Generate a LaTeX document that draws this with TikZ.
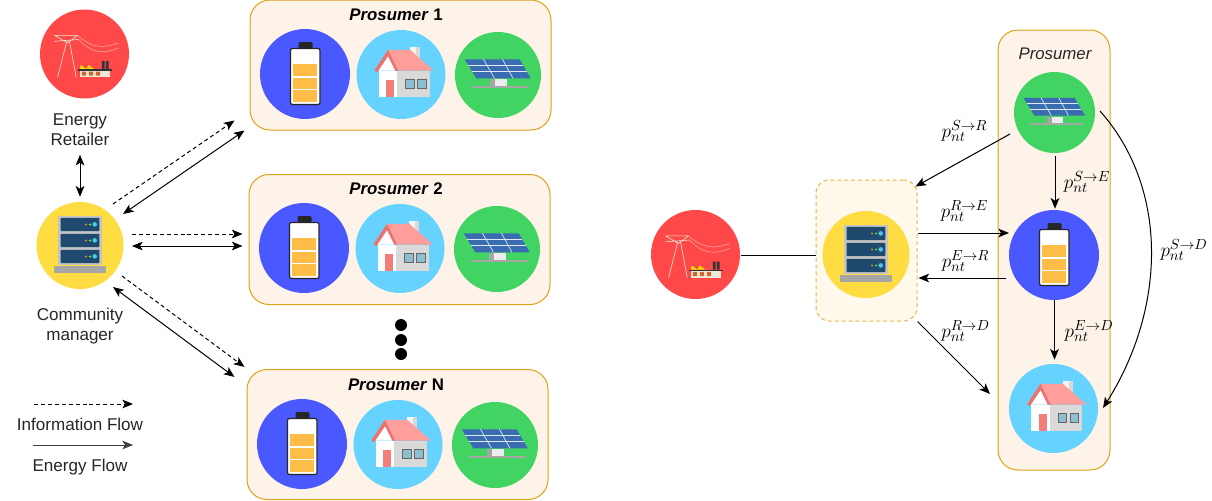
\documentclass[tikz,border=0pt]{standalone}
\usepackage{fontspec}
\setmainfont{Liberation Sans}
\usepackage{xcolor}
\usetikzlibrary{arrows.meta}
\usetikzlibrary{calc}
\definecolor{gridred}{RGB}{255,72,72}
\definecolor{batblue}{RGB}{74,88,255}
\definecolor{homeblue}{RGB}{102,211,255}
\definecolor{solargreen}{RGB}{66,212,98}
\definecolor{serveryellow}{RGB}{255,220,66}
\definecolor{boxfill}{RGB}{254,243,233}
\definecolor{boxline}{RGB}{224,162,24}
\definecolor{mgrfill}{RGB}{255,249,236}
\definecolor{mgrline}{RGB}{226,184,76}
\definecolor{cellorange}{RGB}{255,188,71}
\definecolor{roofpink}{RGB}{255,158,155}
\definecolor{roofdark}{RGB}{240,112,106}
\definecolor{panelblue}{RGB}{58,108,178}
\definecolor{baydark}{RGB}{31,74,109}
\definecolor{rackgray}{RGB}{196,196,196}
\definecolor{basegray}{RGB}{166,166,166}
\definecolor{factorycream}{RGB}{239,232,216}

\tikzset{
	>={Stealth[length=8pt,width=6.5pt,inset=2pt]},
	disc/.style={circle,inner sep=0pt,minimum size=#1*0.75pt},
	probox/.style={draw=boxline,fill=boxfill,line width=0.75pt,rounded corners=15pt,inner sep=0pt,minimum width=301*0.75pt,minimum height=130*0.75pt},
	txt/.style={align=center,text=black!85,font=\fontsize{12.8}{15}\selectfont,inner sep=0pt},
	title/.style={inner sep=0pt,font=\fontsize{12.6}{15}\selectfont\bfseries},
	pow/.style={inner sep=0pt,font=\fontsize{15}{18}\selectfont},
	energy/.style={line width=0.75pt},
	info/.style={line width=0.75pt,dash pattern=on 3pt off 2.2pt},
	batteryicon/.pic={
		\fill[black!85,rounded corners=1pt] (-6.5,-32) rectangle (7.5,-24);
		\draw[black!85,fill=white,line width=0.9pt,rounded corners=1.5pt] (-14.5,-25.5) rectangle (15,30.5);
		\fill[cellorange] (-11.7,-10) rectangle (12.3,2);
		\fill[cellorange] (-11.7,3.7) rectangle (12.3,15);
		\fill[cellorange] (-11.7,16.3) rectangle (12.3,28.3);
	},
	homeicon/.pic={
		\fill[white!92!gray] (9.3,-28) rectangle (19.3,-14);
		\fill[black!15] (15,-28) rectangle (19.3,-14);
		\fill[white] (-22.3,-4) rectangle (-4,22);
		\fill[black!15] (-4,-4) rectangle (28.7,22);
		\fill[roofpink] (-13,-24.7) -- (9.3,-24.7) -- (32.7,-4) -- (-3,-4) -- cycle;
		\fill[roofdark] (-26.7,-4) -- (-13,-24.7) -- (-3,-4) -- (-6,-4) -- (-13,-18) -- (-23.5,-2.5) -- cycle;
		\fill[white] (-22.3,-4) -- (-13,-18) -- (-6,-4) -- cycle;
		\fill[roofdark!90!white] (-15,5.3) rectangle (-6.7,22);
		\draw[black!60,fill=homeblue!55!gray!80,line width=0.5pt] (4.7,5.3) rectangle (13.3,14.3);
		\draw[black!60,fill=homeblue!55!gray!80,line width=0.5pt] (16.7,5.3) rectangle (25,14.3);
	},
	solaricon/.pic={
		\fill[panelblue] (-33.3,-15.7) -- (21.7,-15.7) -- (32.7,3.3) -- (-21.7,3.3) -- cycle;
		\draw[white!85!panelblue,line width=0.4pt] (-30,-10) -- (25,-10) (-26.5,-3.5) -- (28.8,-3.5);
		\draw[white!85!panelblue,line width=0.5pt] (-14.5,-15.7) -- (-3.5,3.3) (4.5,-15.7) -- (15,3.3);
		\fill[basegray] (-7.7,4.3) rectangle (-3,11);
		\fill[black!7] (-3,4.3) rectangle (9,11);
		\fill[basegray] (-26,11) rectangle (30.7,13);
	},
	servericon/.pic={
		\fill[rackgray] (-22,-30) rectangle (21.7,19.3);
		\fill[basegray] (-26,20) rectangle (25.7,27);
		\foreach \bayy in {-27.7,-11.7,4.3}{
			\fill[baydark,rounded corners=0.5pt] (-19.3,\bayy) rectangle (19.3,\bayy+13.2);
			\fill[red!55!white] (6,\bayy+6.6) circle (1.1);
			\fill[green!60!yellow] (10,\bayy+6.6) circle (1.1);
			\fill[cyan!70!white] (14.7,\bayy+6.6) circle (2.3);
		}
	},
	gridicon/.pic={
		\draw[factorycream,line width=0.45pt] (-17.7,-12.7) -- (-27,23.3) (-15,-12.7) -- (-8.3,23.3)
			(-30,-18.7) -- (-7,-18.7) (-30,-18.7) -- (-17,-11) -- (-7,-18.7) (-30,-12.7) -- (-6,-14.5);
		\draw[factorycream!70!gridred,line width=0.35pt] (-7,-18.7) .. controls (8,-5) and (20,-6) .. (34,-11)
			(-6,-14.5) .. controls (8,0) and (20,0) .. (34,-6);
		\fill[yellow!80!orange] (-5,15) -- (-3.5,11) -- (1.7,15) -- (4.3,11) -- (9.5,15) -- cycle;
		\fill[black!80] (17.3,7) rectangle (20,15) (21.3,7) rectangle (24,15);
		\fill[black!80] (-7,15) rectangle (27.3,16.7);
		\fill[factorycream] (-5,16.7) rectangle (25.7,23.3);
		\fill[brown!80!red] (-2.7,17.7) rectangle (1.7,21.7) (4.3,17.7) rectangle (8.7,21.7) (11.3,17.7) rectangle (15.7,21.7);
	},
}

\begin{document}
\begin{tikzpicture}[x=0.75pt,y=-0.75pt]
	\useasboundingbox (0,0) rectangle (1212,500);

	% community side
	\node[disc=89,fill=gridred](retailerL) at (84.5,54){};
	\pic at (retailerL) {gridicon};
	\node[txt](retailerTxt) at (80,129.5){Energy\\Retailer};
	\node[disc=87,fill=serveryellow](serverL) at (80,245.5){};
	\pic at (serverL) {servericon};
	\node[txt](serverTxt) at (80,326){Community\\manager};

	\node[probox](boxA) at (400.5,65){};
	\node[title] at (396,15){\textit{Prosumer} 1};
	\node[disc=90,fill=batblue](batA) at (305,74){};
	\node[disc=89,fill=homeblue](homeA) at (401,74.5){};
	\node[disc=86,fill=solargreen](solarA) at (498,75){};
	\pic at (batA) {batteryicon};
	\pic at (homeA) {homeicon};
	\pic at (solarA) {solaricon};

	\node[probox](boxB) at (399.5,239.5){};
	\node[title] at (396,189){\textit{Prosumer} 2};
	\node[disc=90,fill=batblue](batB) at (304,248){};
	\node[disc=89,fill=homeblue](homeB) at (400,248.5){};
	\node[disc=86,fill=solargreen](solarB) at (497,249){};
	\pic at (batB) {batteryicon};
	\pic at (homeB) {homeicon};
	\pic at (solarB) {solaricon};

	\node[disc=12,fill=black](dotA) at (401,325){};
	\node[disc=12,fill=black](dotB) at (401,340){};
	\node[disc=12,fill=black](dotC) at (401,354){};

	\node[probox](boxC) at (397.5,434.5){};
	\node[title] at (396,385){\textit{Prosumer} N};
	\node[disc=90,fill=batblue](batC) at (302,444){};
	\node[disc=89,fill=homeblue](homeC) at (398,444.5){};
	\node[disc=86,fill=solargreen](solarC) at (495,445){};
	\pic at (batC) {batteryicon};
	\pic at (homeC) {homeicon};
	\pic at (solarC) {solaricon};

	\draw[<->,energy]([shift={(0,9)}]retailerTxt.south) to ([shift={(0,-5)}]serverL.north);
	\draw[->,info]([shift={(33,-41.5)}]serverL.center) to ([shift={(-15,-10)}]boxA.south west);
	\draw[<->,energy]([shift={(43,-31.5)}]serverL.center) to ([shift={(-5,0)}]boxA.south west);
	\draw[->,info]([shift={(52,-11.5)}]serverL.center) to ([shift={(-6,-5.5)}]boxB.west);
	\draw[<->,energy]([shift={(52,0.5)}]serverL.center) to ([shift={(-6,6.5)}]boxB.west);
	\draw[->,info]([shift={(42,30.5)}]serverL.center) to ([shift={(-2,-2)}]boxC.north west);
	\draw[<->,energy]([shift={(33,41.5)}]serverL.center) to ([shift={(-12,8)}]boxC.north west);

	% legend
	\node[txt](infoTxt) at (80,424){Information Flow};
	\node[txt](energyTxt) at (80,467.5){Energy Flow};
	\coordinate(infoA) at (34,404);
	\coordinate(infoB) at (133,404);
	\coordinate(energyA) at (33,445);
	\coordinate(energyB) at (133,445);
	\draw[->,info](infoA) to (infoB);
	\draw[->,energy,black!75](energyA) to (energyB);

	% single prosumer
	\node[draw=boxline,fill=boxfill,line width=0.75pt,rounded corners=15pt,inner sep=0pt,minimum width=112*0.75pt,minimum height=440*0.75pt](boxP) at (1054,250){};
	\node[draw=mgrline,fill=mgrfill,line width=0.75pt,dash pattern=on 3pt off 2.2pt,rounded corners=10pt,inner sep=0pt,minimum width=101*0.75pt,minimum height=141*0.75pt](boxM) at (866.5,250.5){};
	\node[txt,font=\fontsize{12.6}{15}\selectfont\itshape] at (1055,54){Prosumer};

	\node[disc=89,fill=gridred](retailerR) at (695.5,254.5){};
	\pic at (retailerR) {gridicon};
	\node[disc=87,fill=serveryellow](serverR) at (866,254.5){};
	\pic at (serverR) {servericon};
	\node[disc=81,fill=solargreen](solarR) at (1054.5,112.5){};
	\pic[scale=0.93] at (solarR) {solaricon};
	\node[disc=90,fill=batblue](batR) at (1054,255){};
	\pic at (batR) {batteryicon};
	\node[disc=89,fill=homeblue](homeR) at (1053.5,408.5){};
	\pic at (homeR) {homeicon};

	\draw[energy]([shift={(45.5,0.5)}]retailerR.center) to ([shift={(0,4.5)}]boxM.west);
	\draw[->,energy]([shift={(-44.5,21.5)}]solarR.center) to ([shift={(-2,7)}]boxM.north east);
	\draw[->,energy]([shift={(0.5,3)}]solarR.south) to ([shift={(1,-1)}]batR.north);
	\draw[->,energy]([shift={(0,-17.5)}]boxM.east) to ([shift={(-45,-22)}]batR.center);
	\draw[->,energy]([shift={(-48,23)}]batR.center) to ([shift={(1,27.5)}]boxM.east);
	\draw[->,energy](boxM.south east) to ([shift={(-63.5,-14.5)}]homeR.center);
	\draw[->,energy]([shift={(0.5,0)}]batR.south) to ([shift={(1,-4)}]homeR.north);
	\draw[->,energy]([shift={(45.5,-1.5)}]solarR.center) .. controls (1170,190) and (1165,310) .. ([shift={(49.5,-0.5)}]homeR.center);

	\node[pow] at (964.5,131){$p_{nt}^{S\to R}$};
	\node[pow] at (1087,182){$p_{nt}^{S\to E}$};
	\node[pow] at (964.5,211){$p_{nt}^{R\to E}$};
	\node[pow] at (965.5,261){$p_{nt}^{E\to R}$};
	\node[pow] at (965.5,331){$p_{nt}^{R\to D}$};
	\node[pow] at (1089,331){$p_{nt}^{E\to D}$};
	\node[pow] at (1184,250){$p_{nt}^{S\to D}$};
\end{tikzpicture}
\end{document}
